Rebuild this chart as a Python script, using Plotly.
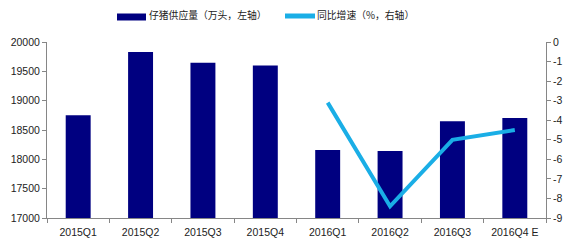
import plotly.graph_objects as go

categories = ["2015Q1", "2015Q2", "2015Q3", "2015Q4", "2016Q1", "2016Q2", "2016Q3", "2016Q4 E"]
supply = [18750, 19830, 19645, 19600, 18160, 18143, 18650, 18706]
growth_cats = ["2016Q1", "2016Q2", "2016Q3", "2016Q4 E"]
growth = [-3.1, -8.4, -5.0, -4.5]
left_ticks = [17000, 17500, 18000, 18500, 19000, 19500, 20000]
left_ticktext = ["17000", "17500", "18000", "18500", "19000", "19500", "20000"]
right_ticks = [0, -1, -2, -3, -4, -5, -6, -7, -8, -9]
right_ticktext = ["0", "-1", "-2", "-3", "-4", "-5", "-6", "-7", "-8", "-9"]

bar_color = "#000080"
line_color = "#1aaee6"
axis_color = "#868686"
tick_font = dict(family="Liberation Sans, Arial, sans-serif", size=10.5, color="#222222")
cjk_font = dict(family="Noto Sans CJK SC, sans-serif", size=9.8, color="#222222")

fig = go.Figure()
fig.add_trace(go.Bar(x=categories, y=supply, name="仔猪供应量（万头，左轴）",
                     marker=dict(color=bar_color, line=dict(width=0)), width=0.4,
                     showlegend=False))
fig.add_trace(go.Scatter(x=growth_cats, y=growth, name="同比增速（%，右轴）", yaxis="y2",
                         mode="lines", line=dict(color=line_color, width=4),
                         showlegend=False))

fig.update_layout(
    width=572, height=242,
    margin=dict(l=47, r=26, t=42, b=24),
    paper_bgcolor="white", plot_bgcolor="white",
    bargap=0.6,
    xaxis=dict(type="category", categoryarray=categories, showline=True, linecolor=axis_color,
               linewidth=1, ticks="outside", tickson="boundaries", ticklen=4, tickcolor=axis_color,
               tickfont=tick_font, showgrid=False, zeroline=False, ticklabelstandoff=4,
               automargin=False),
    yaxis=dict(range=[17000, 20000], tickvals=left_ticks, ticktext=left_ticktext, showline=True,
               linecolor=axis_color, linewidth=1, ticks="outside", ticklen=4, tickcolor=axis_color,
               tickfont=tick_font, showgrid=False, zeroline=False, automargin=False),
    yaxis2=dict(range=[-9, 0], tickvals=right_ticks, ticktext=right_ticktext, overlaying="y",
                side="right", showline=True, linecolor=axis_color, linewidth=1, ticks="outside",
                ticklen=4, tickcolor=axis_color, tickfont=tick_font, showgrid=False, zeroline=False,
                automargin=False),
)

# custom legend
fig.add_shape(type="rect", xref="paper", yref="paper",
              x0=(117 - 47) / 499, x1=(146 - 47) / 499, y0=(218 - 20.5) / 176, y1=(218 - 13.5) / 176,
              fillcolor=bar_color, line=dict(width=0))
fig.add_shape(type="line", xref="paper", yref="paper",
              x0=(285 - 47) / 499, x1=(315 - 47) / 499, y0=(218 - 16) / 176, y1=(218 - 16) / 176,
              line=dict(color=line_color, width=5))
fig.add_annotation(xref="paper", yref="paper", x=(147 - 47) / 499, y=(218 - 15) / 176,
                   xanchor="left", yanchor="middle", showarrow=False,
                   text="仔猪供应量（万头，左轴）", font=cjk_font)
fig.add_annotation(xref="paper", yref="paper", x=(315 - 47) / 499, y=(218 - 15) / 176,
                   xanchor="left", yanchor="middle", showarrow=False,
                   text="同比增速（%，右轴）", font=cjk_font)

fig.write_html("out.html")
